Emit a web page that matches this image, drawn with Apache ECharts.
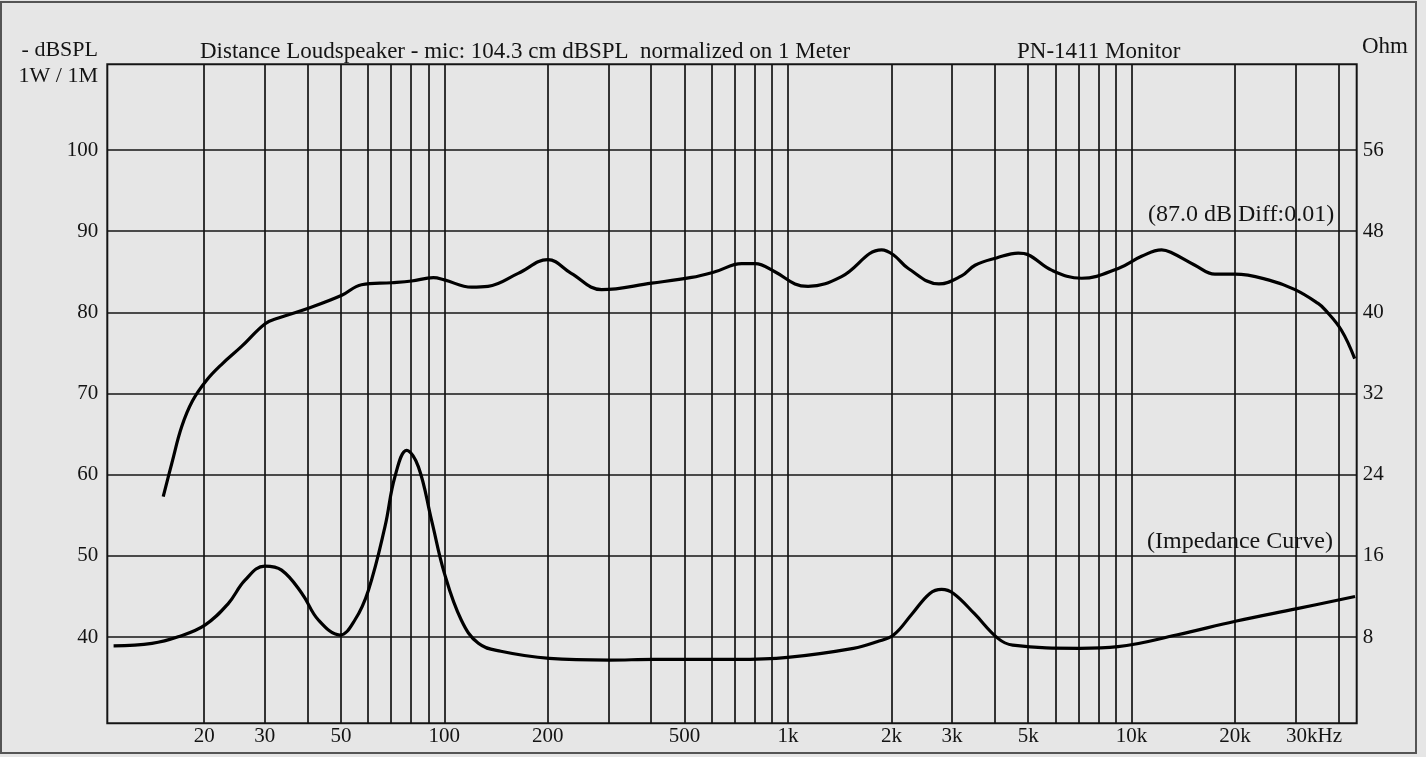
<!DOCTYPE html>
<html>
<head>
<meta charset="utf-8">
<style>
  html, body { margin: 0; padding: 0; background: #e6e6e6; }
  #chart { width: 1426px; height: 757px; }
</style>
<script src="https://cdn.jsdelivr.net/npm/echarts@6/dist/echarts.min.js"></script>
</head>
<body>
<div id="chart"></div>
<script>
// ---------- data ----------
const fMin = 10.45, fMax = 45200;          // frequency extent of the plot (Hz)
const dbMin = 29.37, dbMax = 110.56;       // left axis extent (dBSPL)
const ohmMin = -0.5, ohmMax = 64.45;       // right axis extent (Ohm)

const gridFreqs = [20,30,40,50,60,70,80,90,100,200,300,400,500,600,700,800,900,
                   1000,2000,3000,4000,5000,6000,7000,8000,9000,10000,20000,30000,40000];
const labelFreqs = [20,30,50,100,200,500,1000,2000,3000,5000,10000,20000,30000];
const labelTexts = ['20','30','50','100','200','500','1k','2k','3k','5k','10k','20k','30kHz'];
const dbTicks = [40,50,60,70,80,90,100];
const ohmTicks = [8,16,24,32,40,48,56];

// SPL response
const splFreq = [15.2,16.1,17.2,18.5,20.3,22.5,25.7,30.1,32.9,40.2,50.3,57.4,70.3,80.3,92.9,100,120,134,164,
                 200,234,287,401,524,613,733,802,916,1048,1144,1432,1873,2025,2240,2750,3200,3503,4046,
                 4679,4999,5851,7152,9145,10690,12230,13000,15290,17480,20000,25000,29900,34900,36600,40800,44600];
const splDb   = [57.3,61.4,65.9,69.1,71.6,73.6,75.8,78.6,79.3,80.5,82.1,83.4,83.65,83.86,84.27,84.0,83.1,83.2,84.8,
                 86.5,84.8,82.8,83.6,84.3,85.0,86.0,86.0,85.0,83.5,83.2,84.4,87.7,87.1,85.4,83.5,84.5,85.8,86.7,
                 87.3,87.1,85.2,84.2,85.4,86.9,87.7,87.4,85.8,84.7,84.7,84.0,82.8,81.1,80.3,77.8,74.3];

// Impedance curve
const impFreq = [10.9,14.1,16.8,20.1,23.5,26.3,30.0,33.6,38.5,43.0,49.7,54.9,60.1,67.2,71.8,77.7,84.0,91.8,
                 100,112,125.6,146,202,302,406,704,998,1550,1815,2028,2299,2588,2800,3032,3489,4084,4510,
                 7066,9130,13500,20200,30300,44700];
const impOhm  = [7.14,7.38,8.03,9.18,11.3,13.6,15.0,14.6,12.3,9.68,8.2,9.68,12.6,18.9,23.8,26.4,24.8,19.5,
                 14.3,9.68,7.38,6.6,5.9,5.73,5.8,5.8,6.0,6.89,7.54,8.2,10.3,12.3,12.7,12.3,10.3,7.87,7.2,
                 6.89,7.05,8.2,9.58,10.8,12.0];

// ---------- chart ----------
const FONT = "'Liberation Serif', 'DejaVu Serif', serif";
const INK = '#141414';
const lg = v => Math.log10(v);
const chart = echarts.init(document.getElementById('chart'), null, { renderer: 'canvas' });

function xLabel(v) {
  let best = 0, bd = Infinity;
  labelFreqs.forEach((f, i) => { const d = Math.abs(lg(f) - v); if (d < bd) { bd = d; best = i; } });
  const t = labelTexts[best];
  return t.indexOf('Hz') >= 0 ? '{hz|' + t + '}' : t;
}

function txt(x, y, text, size, align) {
  return { type: 'text', x: x, y: y, silent: true,
    style: { text: text, font: size + 'px ' + FONT, fill: INK, align: align || 'left', verticalAlign: 'middle' } };
}

const option = {
  animation: false,
  backgroundColor: '#e6e6e6',
  grid: {
    left: 107.3, right: 69.3, top: 64.3, bottom: 33.7,
    show: true, borderColor: INK, borderWidth: 2, backgroundColor: 'transparent'
  },
  xAxis: {
    type: 'value', min: lg(fMin), max: lg(fMax),
    axisLine: { show: false },
    axisTick: { show: false, customValues: gridFreqs.map(lg) },
    splitLine: { show: true, lineStyle: { color: INK, width: 1.7 } },
    axisLabel: {
      customValues: labelFreqs.map(lg), formatter: xLabel,
      color: INK, fontFamily: FONT, fontSize: 21, margin: 3,
      rich: { hz: { fontFamily: FONT, fontSize: 21, color: INK, padding: [0, 0, 0, 37] } }
    }
  },
  yAxis: [
    {
      type: 'value', min: dbMin, max: dbMax,
      axisLine: { show: false },
      axisTick: { show: false, customValues: dbTicks },
      splitLine: { show: true, lineStyle: { color: INK, width: 1.7 } },
      axisLabel: { customValues: dbTicks, color: INK, fontFamily: FONT, fontSize: 21, margin: 9 }
    },
    {
      type: 'value', min: ohmMin, max: ohmMax, position: 'right',
      axisLine: { show: false },
      axisTick: { show: false, customValues: ohmTicks },
      splitLine: { show: false },
      axisLabel: { customValues: ohmTicks, color: INK, fontFamily: FONT, fontSize: 21, margin: 6 }
    }
  ],
  series: [
    {
      name: 'SPL', type: 'line', yAxisIndex: 0, showSymbol: false, smooth: 0.4,
      lineStyle: { color: '#000', width: 3.2 },
      data: splFreq.map((f, i) => [lg(f), splDb[i]])
    },
    {
      name: 'Impedance', type: 'line', yAxisIndex: 1, showSymbol: false, smooth: 0.4,
      lineStyle: { color: '#000', width: 3.2 },
      data: impFreq.map((f, i) => [lg(f), impOhm[i]])
    }
  ],
  graphic: [
    { type: 'rect', silent: true, shape: { x: 1, y: 2, width: 1415, height: 751 }, style: { fill: 'none', stroke: '#555', lineWidth: 2 } },
    txt(98, 50, '- dBSPL', 22, 'right'),
    txt(98, 76, '1W / 1M', 22, 'right'),
    txt(200, 52, 'Distance Loudspeaker - mic: 104.3 cm dBSPL  normalized on 1 Meter', 23),
    txt(1017, 52, 'PN-1411 Monitor', 23),
    txt(1362, 47, 'Ohm', 23),
    txt(1148, 215, '(87.0 dB Diff:0.01)', 24),
    txt(1147, 542, '(Impedance Curve)', 24)
  ]
};
chart.setOption(option);
</script>
</body>
</html>
